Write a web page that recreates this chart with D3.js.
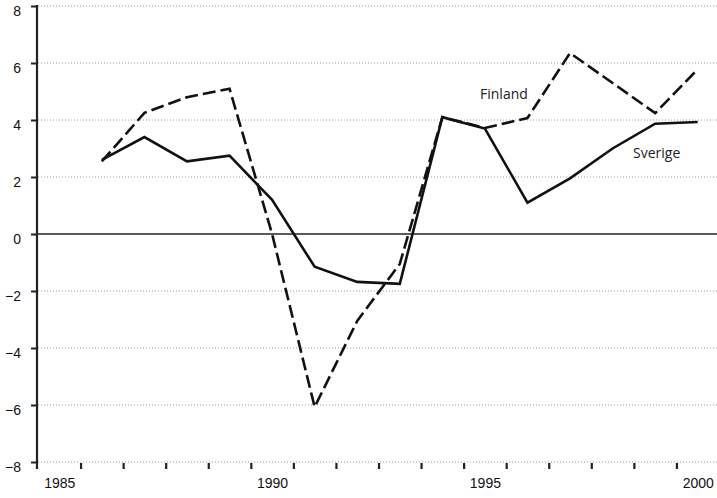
<!DOCTYPE html>
<html>
<head>
<meta charset="utf-8">
<script src="https://cdn.jsdelivr.net/npm/d3@7"></script>
<style>
  body { margin: 0; background: #fff; }
  svg { display: block; font-family: "Open Sans", sans-serif; }
</style>
</head>
<body>
<svg id="chart"></svg>
<script>
// years and growth values
var years = [1986, 1987, 1988, 1989, 1990, 1991, 1992, 1993, 1994, 1995, 1996, 1997, 1998, 1999, 2000];
var sverige = [2.6, 3.4, 2.55, 2.75, 1.2, -1.15, -1.68, -1.75, 4.1, 3.7, 1.1, 1.95, 3.0, 3.87, 3.93];
var finland = [2.55, 4.25, 4.8, 5.1, 0.0, -6.07, -3.05, -1.05, 4.1, 3.72, 4.07, 6.35, 5.3, 4.24, 5.78];
var yTicks = [-8, -6, -4, -2, 0, 2, 4, 6, 8];
var xLabels = [1985, 1990, 1995, 2000];
var xMinorTicks = d3.range(1985.5, 2000, 1);

var width = 717, height = 498;
var svg = d3.select("#chart")
    .attr("width", width)
    .attr("height", height);

var xScale = d3.scaleLinear()
    .domain([1984.5, 2000.5])
    .range([38, 719]);

var yScale = d3.scaleLinear()
    .domain([-8, 8])
    .range([462, 6]);

// dotted gridlines
svg.append("g")
    .selectAll("line")
    .data(yTicks.filter(function(d) { return d !== 0; }))
    .enter().append("line")
    .attr("x1", 38)
    .attr("x2", width)
    .attr("y1", function(d) { return yScale(d); })
    .attr("y2", function(d) { return yScale(d); })
    .style("stroke", "#9a9a9a")
    .style("stroke-width", 1)
    .style("stroke-dasharray", "1,2");

// zero line
svg.append("line")
    .attr("x1", 37)
    .attr("x2", width)
    .attr("y1", yScale(0))
    .attr("y2", yScale(0))
    .style("stroke", "#5a5a5a")
    .style("stroke-width", 2);

// y axis
var yAxis = d3.axisLeft(yScale)
    .tickValues(yTicks)
    .tickSize(6)
    .tickPadding(10)
    .tickFormat(d3.format("d"));

var gy = svg.append("g")
    .attr("transform", "translate(37,0)")
    .call(yAxis);
gy.select(".domain").remove();
gy.selectAll(".tick line").style("stroke", "#222").style("stroke-width", 2);
gy.selectAll(".tick text")
    .attr("dy", "0.68em")
    .style("font-size", "14px")
    .style("fill", "#111");

svg.append("line")
    .attr("x1", 37).attr("x2", 37)
    .attr("y1", yScale(8) - 1)
    .attr("y2", yScale(-8) + 7)
    .style("stroke", "#222")
    .style("stroke-width", 2.2);

// x axis: small ticks between years
var xAxis = d3.axisBottom(xScale)
    .tickValues(xMinorTicks)
    .tickSize(6)
    .tickFormat("");

var gx = svg.append("g")
    .attr("transform", "translate(0," + (yScale(-8) + 1) + ")")
    .call(xAxis);
gx.select(".domain").remove();
gx.selectAll(".tick line").style("stroke", "#222").style("stroke-width", 2.2);

var xLabelAxis = d3.axisBottom(xScale)
    .tickValues(xLabels)
    .tickSize(0)
    .tickPadding(16)
    .tickFormat(d3.format("d"));

var gl = svg.append("g")
    .attr("transform", "translate(0," + yScale(-8) + ")")
    .call(xLabelAxis);
gl.select(".domain").remove();
gl.selectAll(".tick text").style("font-size", "14px").style("fill", "#111");

// lines
var line = d3.line()
    .x(function(d) { return xScale(d[0]); })
    .y(function(d) { return yScale(d[1]); });

svg.append("path")
    .datum(d3.zip(years, sverige))
    .attr("d", line)
    .style("fill", "none")
    .style("stroke", "#111")
    .style("stroke-width", 2.6)
    .style("stroke-linejoin", "miter");

svg.append("path")
    .datum(d3.zip(years, finland))
    .attr("d", line)
    .style("fill", "none")
    .style("stroke", "#111")
    .style("stroke-width", 2.6)
    .style("stroke-dasharray", "13,5")
    .style("stroke-linejoin", "miter");

// series labels
svg.append("text")
    .attr("x", 480)
    .attr("y", 99)
    .style("font-size", "14px")
    .style("fill", "#222")
    .text("Finland");

svg.append("text")
    .attr("x", 633)
    .attr("y", 158)
    .style("font-size", "14px")
    .style("fill", "#222")
    .text("Sverige");
</script>
</body>
</html>
